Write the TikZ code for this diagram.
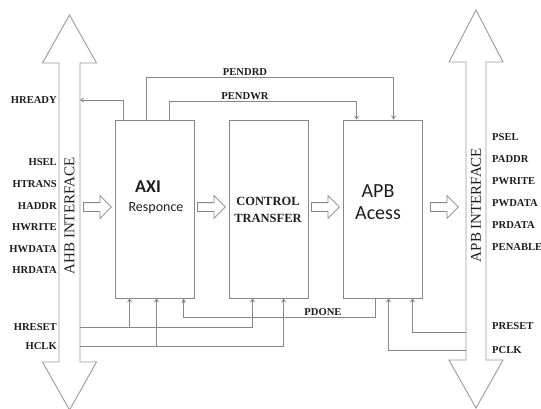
\documentclass[tikz,border=0pt]{standalone}
\usepackage{fontspec}
\setmainfont{Liberation Serif}
\newfontfamily\calibri{Carlito}
\usetikzlibrary{positioning,shapes.arrows,arrows.meta}
\definecolor{WireGray}{RGB}{135,135,135}
\definecolor{LabelInk}{RGB}{30,30,30}

\begin{document}
\begin{tikzpicture}[x=1pt,y=-1pt,
  blk/.style={draw=WireGray,line width=0.9pt,minimum width=79pt,minimum height=178pt,inner sep=0pt},
  sig/.style={draw=WireGray,line width=0.8pt,-{Straight Barb[length=3pt,width=4pt]}},
  pin/.style={font=\bfseries\fontsize{10.6}{10.6}\selectfont,text=LabelInk,inner sep=1pt},
  bus/.style={draw=WireGray!85,line width=0.9pt},
  hollow/.style={single arrow,draw=WireGray,line width=0.8pt,minimum height=28pt,minimum width=22pt,single arrow head extend=7pt,inner sep=4pt,anchor=tail},
  busname/.style={rotate=90,font=\fontsize{15}{15}\selectfont,text=LabelInk}]

\useasboundingbox (0,0) rectangle (541,409);

% the two bus arrows
\draw[bus] (59,63) -- (42.5,63) -- (69.5,15) -- (96.5,63) -- (80,63) -- (80,362) -- (96.5,362) -- (69.5,410) -- (42.5,362) -- (59,362) -- cycle;
\draw[bus] (466,62) -- (449,62) -- (476,10) -- (503,62) -- (486,62) -- (486,360) -- (503,360) -- (476,408) -- (449,360) -- (466,360) -- cycle;
\coordinate (ahbR) at (80,0);
\coordinate (apbL) at (466,0);
\node[busname] (ahbtxt) at (69.5,216) {AHB INTERFACE};
\node[busname] (apbtxt) at (476,205) {APB INTERFACE};

% blocks
\node[blk] (axi) at (154.5,209) {};
\node[blk] (ctrl) at (268.5,209) {};
\node[blk] (apbacc) at (382.5,209) {};
\node[font=\calibri\bfseries\fontsize{18}{18}\selectfont,text=LabelInk] (axit) at (148,187) {AXI};
\node[font=\calibri\fontsize{14}{14}\selectfont,text=LabelInk] (rspt) at (156,208) {Responce};
\node[font=\bfseries\fontsize{12.5}{17}\selectfont,text=LabelInk,align=center] (ctlt) at (268,210) {CONTROL\\TRANSFER};
\node[font=\calibri\fontsize{20}{22}\selectfont,text=LabelInk,align=center] (apbt) at (378,202) {APB\\Acess};

% hollow flow arrows
\node[hollow] (f1) at (83,207) {};
\node[hollow] (f2) at (197,207) {};
\node[hollow] (f3) at (311,207) {};
\node[hollow] (f4) at (430,207) {};

% pin points on the blocks
\coordinate (axiRdy) at ([xshift=9pt]axi.north west);
\coordinate (axiRd) at ([xshift=32pt]axi.north west);
\coordinate (axiWr) at ([xshift=55pt]axi.north west);
\coordinate (axiR) at ([xshift=15pt]axi.south west);
\coordinate (axiC) at ([xshift=42pt]axi.south west);
\coordinate (axiD) at ([xshift=69pt]axi.south west);
\coordinate (ctlR) at ([xshift=24pt]ctrl.south west);
\coordinate (ctlC) at ([xshift=55pt]ctrl.south west);
\coordinate (apbWr) at ([xshift=14pt]apbacc.north west);
\coordinate (apbRd) at ([xshift=51pt]apbacc.north west);
\coordinate (apbD) at ([xshift=33pt]apbacc.south west);
\coordinate (apbC) at ([xshift=46pt]apbacc.south west);
\coordinate (apbR) at ([xshift=70pt]apbacc.south west);

% AHB side signals
\node[pin,anchor=east] (hready) at (58,100) {HREADY};
\node[pin,anchor=east] (hsel) at (58,162) {HSEL};
\node[pin,anchor=east] (htrans) at (58,184) {HTRANS};
\node[pin,anchor=east] (haddr) at (58,206) {HADDR};
\node[pin,anchor=east] (hwrite) at (58,227) {HWRITE};
\node[pin,anchor=east] (hwdata) at (58,249) {HWDATA};
\node[pin,anchor=east] (hrdata) at (58,270) {HRDATA};
\node[pin,anchor=east] (hreset) at (58,327) {HRESET};
\node[pin,anchor=east] (hclk) at (58,346) {HCLK};

% APB side signals
\node[pin,anchor=west] (psel) at (491,137) {PSEL};
\node[pin,anchor=west] (paddr) at (491,159) {PADDR};
\node[pin,anchor=west] (pwrite) at (491,181) {PWRITE};
\node[pin,anchor=west] (pwdata) at (491,203) {PWDATA};
\node[pin,anchor=west] (prdata) at (491,225) {PRDATA};
\node[pin,anchor=west] (penable) at (491,247) {PENABLE};
\node[pin,anchor=west] (preset) at (491,326) {PRESET};
\node[pin,anchor=west] (pclk) at (491,350) {PCLK};
\coordinate (prsin) at (466,332);

% internal labels
\node[pin,anchor=south] (pendrd) at (245,77) {PENDRD};
\node[pin,anchor=south] (pendwr) at (245,101) {PENDWR};
\node[pin,anchor=south] (pdone) at (323,317) {PDONE};

% connections
\draw[sig] (axiRdy) |- (hready.east -| ahbR);
\draw[sig] (axiRd) |- (pendrd.south -| apbRd) -- (apbRd);
\draw[sig] (axiWr) |- (pendwr.south -| apbWr) -- (apbWr);
\draw[sig,-{Triangle[length=4pt,width=4pt]}] (apbD) |- (pdone.south -| axiD) -- (axiD);
\draw[sig] (hreset.east -| ahbR) -| (ctlR);
\draw[sig] (axiR |- hreset.east) -- (axiR);
\draw[sig] (hclk.east -| ahbR) -| (ctlC);
\draw[sig] (axiC |- hclk.east) -- (axiC);
\draw[sig] (prsin) -| (apbR);
\draw[sig] (pclk.west -| apbL) -| (apbC);
\end{tikzpicture}
\end{document}
